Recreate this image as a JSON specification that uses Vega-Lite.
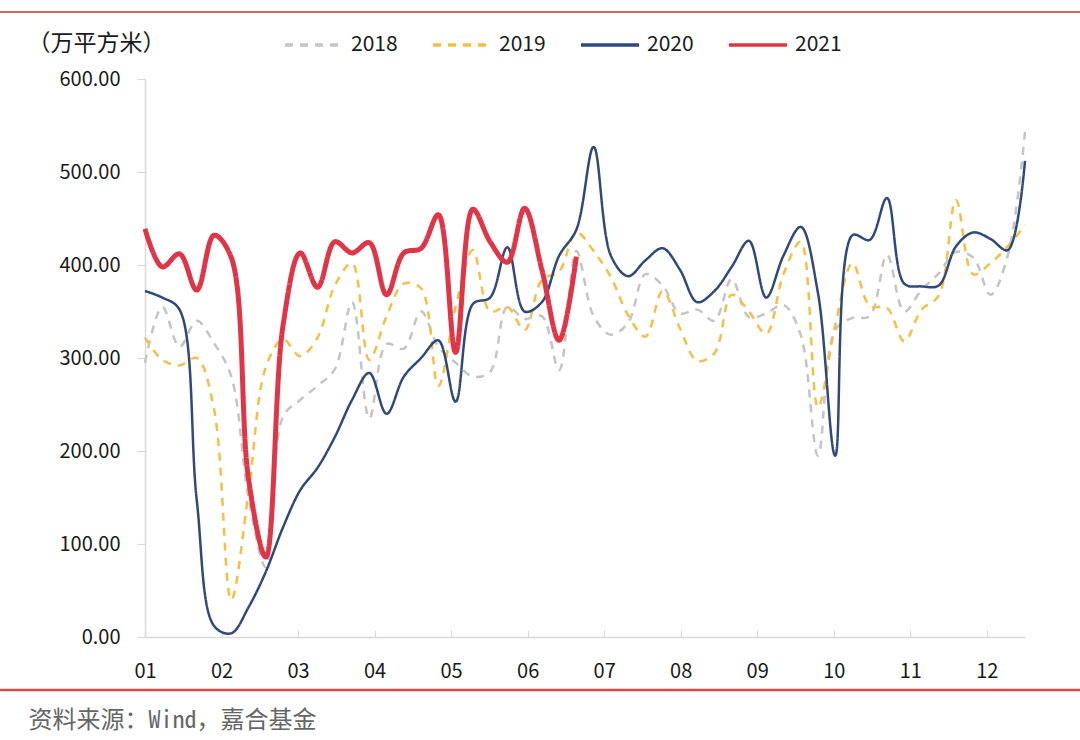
{
  "$schema": "https://vega.github.io/schema/vega-lite/v6.json",
  "width": 880,
  "height": 558,
  "autosize": {"type": "none"},
  "padding": {"left": 145, "top": 79, "right": 55, "bottom": 103},
  "background": "white",
  "config": {"view": {"stroke": null}, "font": "Noto Sans CJK SC"},
  "datasets": {
    "weekly": [
      {"year":"2018","week":1,"v":295},{"year":"2018","week":2,"v":355},{"year":"2018","week":3,"v":312},{"year":"2018","week":4,"v":340},{"year":"2018","week":5,"v":316},{"year":"2018","week":6,"v":280},{"year":"2018","week":7,"v":150},{"year":"2018","week":8,"v":75},{"year":"2018","week":9,"v":237},{"year":"2018","week":10,"v":255},
      {"year":"2018","week":11,"v":270},{"year":"2018","week":12,"v":288},{"year":"2018","week":13,"v":360},{"year":"2018","week":14,"v":235},{"year":"2018","week":15,"v":315},{"year":"2018","week":16,"v":310},{"year":"2018","week":17,"v":350},{"year":"2018","week":18,"v":312},{"year":"2018","week":19,"v":295},{"year":"2018","week":20,"v":280},
      {"year":"2018","week":21,"v":285},{"year":"2018","week":22,"v":355},{"year":"2018","week":23,"v":342},{"year":"2018","week":24,"v":345},{"year":"2018","week":25,"v":287},{"year":"2018","week":26,"v":415},{"year":"2018","week":27,"v":345},{"year":"2018","week":28,"v":325},{"year":"2018","week":29,"v":338},{"year":"2018","week":30,"v":390},
      {"year":"2018","week":31,"v":378},{"year":"2018","week":32,"v":348},{"year":"2018","week":33,"v":352},{"year":"2018","week":34,"v":340},{"year":"2018","week":35,"v":385},{"year":"2018","week":36,"v":344},{"year":"2018","week":37,"v":348},{"year":"2018","week":38,"v":357},{"year":"2018","week":39,"v":325},{"year":"2018","week":40,"v":195},
      {"year":"2018","week":41,"v":330},{"year":"2018","week":42,"v":343},{"year":"2018","week":43,"v":345},{"year":"2018","week":44,"v":411},{"year":"2018","week":45,"v":350},{"year":"2018","week":46,"v":373},{"year":"2018","week":47,"v":391},{"year":"2018","week":48,"v":414},{"year":"2018","week":49,"v":408},{"year":"2018","week":50,"v":368},
      {"year":"2018","week":51,"v":410},{"year":"2018","week":52,"v":543},

      {"year":"2019","week":1,"v":322},{"year":"2019","week":2,"v":298},{"year":"2019","week":3,"v":292},{"year":"2019","week":4,"v":300},{"year":"2019","week":5,"v":245},{"year":"2019","week":6,"v":40},{"year":"2019","week":7,"v":155},{"year":"2019","week":8,"v":290},{"year":"2019","week":9,"v":320},{"year":"2019","week":10,"v":302},
      {"year":"2019","week":11,"v":322},{"year":"2019","week":12,"v":378},{"year":"2019","week":13,"v":402},{"year":"2019","week":14,"v":298},{"year":"2019","week":15,"v":345},{"year":"2019","week":16,"v":380},{"year":"2019","week":17,"v":375},{"year":"2019","week":18,"v":270},{"year":"2019","week":19,"v":355},{"year":"2019","week":20,"v":416},
      {"year":"2019","week":21,"v":350},{"year":"2019","week":22,"v":355},{"year":"2019","week":23,"v":330},{"year":"2019","week":24,"v":384},{"year":"2019","week":25,"v":393},{"year":"2019","week":26,"v":435},{"year":"2019","week":27,"v":415},{"year":"2019","week":28,"v":387},{"year":"2019","week":29,"v":346},{"year":"2019","week":30,"v":323},
      {"year":"2019","week":31,"v":372},{"year":"2019","week":32,"v":332},{"year":"2019","week":33,"v":297},{"year":"2019","week":34,"v":305},{"year":"2019","week":35,"v":368},{"year":"2019","week":36,"v":350},{"year":"2019","week":37,"v":326},{"year":"2019","week":38,"v":390},{"year":"2019","week":39,"v":425},{"year":"2019","week":40,"v":247},
      {"year":"2019","week":41,"v":335},{"year":"2019","week":42,"v":402},{"year":"2019","week":43,"v":356},{"year":"2019","week":44,"v":354},{"year":"2019","week":45,"v":318},{"year":"2019","week":46,"v":352},{"year":"2019","week":47,"v":367},{"year":"2019","week":48,"v":470},{"year":"2019","week":49,"v":390},{"year":"2019","week":50,"v":402},
      {"year":"2019","week":51,"v":420},{"year":"2019","week":52,"v":443},

      {"year":"2020","week":1,"v":372},{"year":"2020","week":2,"v":365},{"year":"2020","week":3,"v":352},{"year":"2020","week":4,"v":147},{"year":"2020","week":5,"v":12},{"year":"2020","week":6,"v":4},{"year":"2020","week":7,"v":32},{"year":"2020","week":8,"v":70},{"year":"2020","week":9,"v":118},{"year":"2020","week":10,"v":158},
      {"year":"2020","week":11,"v":182},{"year":"2020","week":12,"v":215},{"year":"2020","week":13,"v":255},{"year":"2020","week":14,"v":284},{"year":"2020","week":15,"v":240},{"year":"2020","week":16,"v":280},{"year":"2020","week":17,"v":300},{"year":"2020","week":18,"v":319},{"year":"2020","week":19,"v":253},{"year":"2020","week":20,"v":358},
      {"year":"2020","week":21,"v":365},{"year":"2020","week":22,"v":419},{"year":"2020","week":23,"v":350},{"year":"2020","week":24,"v":360},{"year":"2020","week":25,"v":410},{"year":"2020","week":26,"v":438},{"year":"2020","week":27,"v":527},{"year":"2020","week":28,"v":410},{"year":"2020","week":29,"v":388},{"year":"2020","week":30,"v":405},
      {"year":"2020","week":31,"v":418},{"year":"2020","week":32,"v":395},{"year":"2020","week":33,"v":360},{"year":"2020","week":34,"v":372},{"year":"2020","week":35,"v":398},{"year":"2020","week":36,"v":426},{"year":"2020","week":37,"v":365},{"year":"2020","week":38,"v":410},{"year":"2020","week":39,"v":441},{"year":"2020","week":40,"v":370},
      {"year":"2020","week":41,"v":195},{"year":"2020","week":42,"v":432},{"year":"2020","week":43,"v":427},{"year":"2020","week":44,"v":472},{"year":"2020","week":45,"v":380},{"year":"2020","week":46,"v":377},{"year":"2020","week":47,"v":378},{"year":"2020","week":48,"v":420},{"year":"2020","week":49,"v":435},{"year":"2020","week":50,"v":428},
      {"year":"2020","week":51,"v":416},{"year":"2020","week":52,"v":512},

      {"year":"2021","week":1,"v":439},{"year":"2021","week":2,"v":398},{"year":"2021","week":3,"v":412},{"year":"2021","week":4,"v":373},{"year":"2021","week":5,"v":432},{"year":"2021","week":6,"v":408},{"year":"2021","week":7,"v":170},{"year":"2021","week":8,"v":86},{"year":"2021","week":9,"v":335},{"year":"2021","week":10,"v":413},
      {"year":"2021","week":11,"v":376},{"year":"2021","week":12,"v":425},{"year":"2021","week":13,"v":413},{"year":"2021","week":14,"v":424},{"year":"2021","week":15,"v":368},{"year":"2021","week":16,"v":413},{"year":"2021","week":17,"v":418},{"year":"2021","week":18,"v":454},{"year":"2021","week":19,"v":306},{"year":"2021","week":20,"v":460},
      {"year":"2021","week":21,"v":425},{"year":"2021","week":22,"v":403},{"year":"2021","week":23,"v":461},{"year":"2021","week":24,"v":395},{"year":"2021","week":25,"v":319},{"year":"2021","week":26,"v":409}
    ]
  },
  "layer": [
    {
      "data": {"values": [{}]},
      "mark": {"type": "rule", "clip": false, "color": "#c0392b", "strokeWidth": 1.5},
      "encoding": {"y": {"datum": 672}, "x": {"datum": -7.4}, "x2": {"datum": 55.2}}
    },
    {
      "data": {"values": [{}]},
      "mark": {"type": "rule", "clip": false, "color": "#d94a4a", "strokeWidth": 2.5},
      "encoding": {"y": {"datum": -57}, "x": {"datum": -7.4}, "x2": {"datum": 55.2}}
    },
    {
      "data": {"name": "weekly"},
      "mark": {"type": "line", "interpolate": "catmull-rom", "strokeCap": "butt"},
      "encoding": {
        "x": {
          "field": "week", "type": "quantitative",
          "scale": {"domain": [1, 52], "nice": false, "zero": false},
          "axis": {
            "values": [1, 5.435, 9.87, 14.305, 18.74, 23.175, 27.61, 32.045, 36.48, 40.915, 45.35, 49.785],
            "labelExpr": "(round((datum.value-1)/4.435)+1 < 10 ? '0' : '') + (round((datum.value-1)/4.435)+1)",
            "labelFlush": false,
            "grid": false,
            "domainColor": "#d9d9d9", "domainWidth": 1.5,
            "tickColor": "#d9d9d9", "tickSize": -7, "tickWidth": 1.2,
            "labelFontSize": 20, "labelColor": "#1a1a1a", "labelPadding": 31,
            "title": "资料来源：Wind，嘉合基金",
            "titleX": -117, "titleY": 83, "titleAlign": "left", "titleBaseline": "middle",
            "titleFont": "'Noto Sans Mono CJK SC', 'Noto Sans CJK SC'",
            "titleFontSize": 24, "titleFontWeight": "normal", "titleColor": "#666666"
          }
        },
        "y": {
          "field": "v", "type": "quantitative",
          "scale": {"domain": [0, 600], "nice": false},
          "axis": {
            "values": [0, 100, 200, 300, 400, 500, 600],
            "format": ".2f",
            "grid": false,
            "domainColor": "#d9d9d9", "domainWidth": 1.5,
            "tickColor": "#d9d9d9", "tickSize": 8, "tickWidth": 1.2,
            "labelFontSize": 20, "labelColor": "#1a1a1a", "labelPadding": 17,
            "title": "（万平方米）",
            "titleAngle": 0, "titleX": -118, "titleY": -36, "titleAlign": "left", "titleBaseline": "middle",
            "titleFontSize": 23, "titleFontWeight": "normal", "titleColor": "#1a1a1a"
          }
        },
        "color": {
          "field": "year", "type": "nominal",
          "scale": {"domain": ["2018", "2019", "2020", "2021"], "range": ["#c4c4c4", "#f5bf45", "#2f4a7a", "#e03447"]},
          "legend": {
            "orient": "none", "legendX": 138, "legendY": -65, "direction": "horizontal",
            "title": null, "symbolType": "stroke", "symbolSize": 3364, "symbolStrokeWidth": 3.5,
            "labelFontSize": 21, "labelColor": "#1a1a1a", "labelOffset": 6, "columnPadding": 28
          }
        },
        "strokeDash": {
          "field": "year", "type": "nominal",
          "scale": {"domain": ["2018", "2019", "2020", "2021"], "range": [[8, 7], [8, 7], [1, 0], [1, 0]]}
        },
        "strokeWidth": {"condition": {"test": "datum.year === '2021'", "value": 5}, "value": 2.5}
      }
    }
  ]
}
